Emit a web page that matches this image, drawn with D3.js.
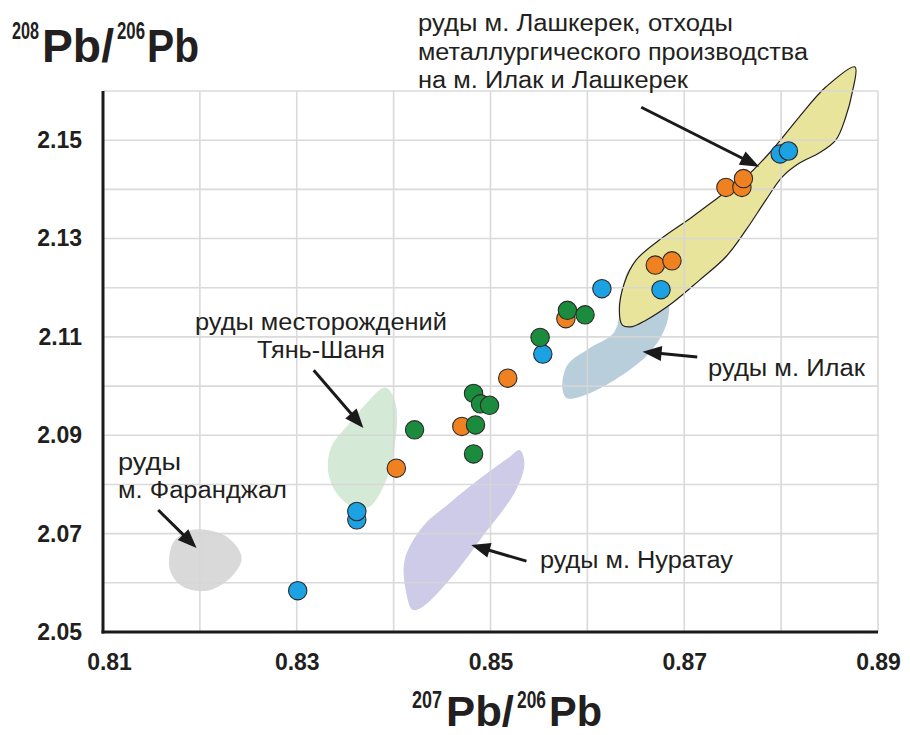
<!DOCTYPE html>
<html>
<head>
<meta charset="utf-8">
<script src="https://cdn.jsdelivr.net/npm/d3@7"></script>
<style>
  html, body { margin: 0; padding: 0; background: #fff; }
  svg { display: block; }
  text { font-family: "Liberation Sans", Arial, sans-serif; fill: #231f20; }
</style>
</head>
<body>
<svg id="chart" width="910" height="735"></svg>
<script>
// ---------- data ----------
const xTicks = [0.81, 0.83, 0.85, 0.87, 0.89];
const yTicks = [2.05, 2.07, 2.09, 2.11, 2.13, 2.15];
const xGrid = [0.82, 0.83, 0.84, 0.85, 0.86, 0.87, 0.88, 0.89];
const yGrid = [2.06, 2.07, 2.08, 2.09, 2.10, 2.11, 2.12, 2.13, 2.14, 2.15, 2.16];

// blue samples [207Pb/206Pb, 208Pb/206Pb]
const bluePts = [
  [0.8301, 2.0584], [0.8362, 2.0728], [0.8362, 2.0745], [0.8554, 2.1065],
  [0.8615, 2.1198], [0.8676, 2.1196], [0.8799, 2.1472], [0.88075, 2.1478]
];
const orangePts = [
  [0.84028, 2.0833], [0.84704, 2.0918], [0.85178, 2.1016], [0.85778, 2.1137],
  [0.86701, 2.1246], [0.86873, 2.12547], [0.8743, 2.1404], [0.87595, 2.1404],
  [0.87611, 2.1422]
];
const greenPts = [
  [0.84216, 2.0911], [0.84825, 2.0862], [0.84845, 2.0921], [0.84825, 2.0985],
  [0.84897, 2.0964], [0.8499, 2.0961], [0.85512, 2.1099], [0.85794, 2.1154],
  [0.85976, 2.1145]
];

// field outlines (data units)
const fieldTianShan = [
  [0.83941, 2.0995], [0.84028, 2.0958], [0.8401, 2.0877], [0.83925, 2.0809],
  [0.83753, 2.0755], [0.83598, 2.0752], [0.83409, 2.0783], [0.83323, 2.0829],
  [0.83358, 2.0877], [0.83546, 2.0925], [0.83753, 2.0972], [0.83887, 2.0996]
];
const fieldFaranjal = [
  [0.82, 2.0709], [0.82275, 2.0694], [0.8243, 2.0653], [0.82361, 2.062],
  [0.82103, 2.0585], [0.81825, 2.0592], [0.81691, 2.0626], [0.81722, 2.0681],
  [0.81863, 2.0704]
];
const fieldNuratau = [
  [0.8530, 2.087], [0.8535, 2.0844], [0.85265, 2.0789], [0.84918, 2.0694],
  [0.84577, 2.0606], [0.84299, 2.0551], [0.84196, 2.0545], [0.84131, 2.0579],
  [0.84113, 2.0646], [0.84299, 2.0714], [0.84577, 2.0762], [0.84918, 2.0816],
  [0.85196, 2.0856]
];
const fieldIlak = [
  [0.85742, 2.0996], [0.85794, 2.1043], [0.86021, 2.1077], [0.86278, 2.111],
  [0.8635, 2.1175], [0.86412, 2.1232], [0.86515, 2.1252], [0.86639, 2.125],
  [0.86763, 2.1215], [0.86845, 2.1165], [0.86794, 2.1114], [0.86619, 2.1063],
  [0.86278, 2.1012], [0.85918, 2.0978], [0.85784, 2.0976]
];
const fieldLashkerek = [
  [0.88763, 2.1649], [0.88732, 2.1595], [0.88667, 2.1547], [0.88564, 2.15],
  [0.88392, 2.1474], [0.88186, 2.1453], [0.8801, 2.1425], [0.87842, 2.1378],
  [0.87636, 2.1317], [0.8743, 2.1263], [0.87155, 2.1215], [0.86876, 2.1169],
  [0.86605, 2.1134], [0.86464, 2.1121], [0.86361, 2.1124], [0.8633, 2.1154],
  [0.86381, 2.1209], [0.86502, 2.1256], [0.86742, 2.1297], [0.87082, 2.1344],
  [0.87361, 2.1385], [0.87636, 2.1425], [0.87907, 2.148], [0.88186, 2.1547],
  [0.88461, 2.1608]
];

// annotation arrows: [from, to] in data units
const arrows = [
  [[0.86556, 2.1567], [0.87773, 2.1446]],
  [[0.83175, 2.1032], [0.83688, 2.0915]],
  [[0.8157, 2.0748], [0.81966, 2.0671]],
  [[0.87134, 2.1059], [0.8657, 2.107]],
  [[0.85371, 2.0644], [0.84801, 2.0677]]
];

// ---------- scales ----------
const svg = d3.select("#chart");
const x = d3.scaleLinear().domain([0.81, 0.89]).range([103, 878]);
const y = d3.scaleLinear().domain([2.05, 2.16]).range([632, 91]);

const blob = d3.line().x(d => x(d[0])).y(d => y(d[1])).curve(d3.curveCatmullRomClosed.alpha(0.5));

// ---------- fields ----------
const gFields = svg.append("g");
gFields.append("path").attr("d", blob(fieldTianShan)).attr("fill", "#d5e9d7");
gFields.append("path").attr("d", blob(fieldFaranjal)).attr("fill", "#d9d9d9");
gFields.append("path").attr("d", blob(fieldNuratau)).attr("fill", "#cecbe9");
gFields.append("path").attr("d", blob(fieldIlak)).attr("fill", "#b8cedb");
gFields.append("path").attr("d", blob(fieldLashkerek)).attr("fill", "#e8e49c")
  .attr("stroke", "#231f20").attr("stroke-width", 1.2);

// ---------- grid ----------
const gGrid = svg.append("g").attr("stroke", "#d6d6d6").attr("stroke-width", 1.6).attr("opacity", 0.9);
gGrid.selectAll("line.v").data(xGrid).join("line")
  .attr("x1", d => x(d)).attr("x2", d => x(d))
  .attr("y1", y(2.05)).attr("y2", y(2.16));
gGrid.selectAll("line.h").data(yGrid).join("line")
  .attr("x1", x(0.81)).attr("x2", x(0.89))
  .attr("y1", d => y(d)).attr("y2", d => y(d));

// ---------- axes ----------
const xAxis = d3.axisBottom(x).tickValues(xTicks).tickSize(0).tickPadding(21)
  .tickFormat(d3.format(".2f"));
const yAxis = d3.axisLeft(y).tickValues(yTicks).tickSize(0).tickPadding(21)
  .tickFormat(d3.format(".2f"));

const gx = svg.append("g").attr("transform", `translate(0,${y(2.05)})`).call(xAxis);
const gy = svg.append("g").attr("transform", `translate(${x(0.81)},0)`).call(yAxis);
[gx, gy].forEach(g => {
  g.select(".domain").remove();
  g.selectAll("text").attr("font-family", "'Liberation Sans', Arial, sans-serif")
    .attr("font-size", 23).attr("font-weight", "bold").attr("fill", "#231f20");
});
gx.selectAll("text").attr("dy", "0.75em");
gx.selectAll("text").filter(d => d === 0.81).attr("dx", 6);

svg.append("line").attr("x1", x(0.81)).attr("x2", x(0.81))
  .attr("y1", y(2.16)).attr("y2", y(2.05) + 1.5)
  .attr("stroke", "#1a1a1a").attr("stroke-width", 3);
svg.append("line").attr("x1", x(0.81) - 1.5).attr("x2", x(0.89))
  .attr("y1", y(2.05)).attr("y2", y(2.05))
  .attr("stroke", "#1a1a1a").attr("stroke-width", 3);

// ---------- arrows ----------
const gArr = svg.append("g");
arrows.forEach(a => {
  const x0 = x(a[0][0]), y0 = y(a[0][1]), x1 = x(a[1][0]), y1 = y(a[1][1]);
  const dx = x1 - x0, dy = y1 - y0, len = Math.hypot(dx, dy);
  const ux = dx / len, uy = dy / len;
  const hl = 19, hw = 7.5;
  const bx = x1 - ux * hl, by = y1 - uy * hl;
  gArr.append("line").attr("x1", x0).attr("y1", y0)
    .attr("x2", bx + ux * 3).attr("y2", by + uy * 3)
    .attr("stroke", "#1a1a1a").attr("stroke-width", 3);
  gArr.append("path")
    .attr("d", `M${x1},${y1}L${bx - uy * hw},${by + ux * hw}L${bx + uy * hw},${by - ux * hw}Z`)
    .attr("fill", "#1a1a1a");
});

// ---------- points ----------
function drawPts(data, color) {
  svg.append("g").selectAll("circle").data(data).join("circle")
    .attr("cx", d => x(d[0])).attr("cy", d => y(d[1])).attr("r", 9.2)
    .attr("fill", color).attr("stroke", "#2a2a2a").attr("stroke-width", 1.1);
}
drawPts(orangePts, "#f08120");
drawPts(bluePts, "#1ca1e2");
drawPts(greenPts, "#1b8b3d");

// ---------- labels ----------
const labels = [
  ["руды м. Лашкерек, отходы", 418, 31, 315],
  ["металлургического производства", 418, 60, 390],
  ["на м. Илак и Лашкерек", 418, 88, 270],
  ["руды месторождений", 195, 330, 252],
  ["Тянь-Шаня", 257, 358, 128],
  ["руды м. Илак", 708, 376, 157],
  ["руды", 118, 470, 63],
  ["м. Фаранджал", 118, 498, 169],
  ["руды м. Нуратау", 540, 568, 193]
];
svg.append("g").selectAll("text").data(labels).join("text")
  .attr("x", d => d[1]).attr("y", d => d[2])
  .attr("font-size", 23)
  .attr("textLength", d => d[3]).attr("lengthAdjust", "spacingAndGlyphs")
  .text(d => d[0]);

// axis titles (one text element each, pieces as tspans)
function title(pieces) {
  const t = svg.append("text").attr("font-weight", "bold").attr("fill", "#231f20");
  pieces.forEach(p => {
    t.append("tspan").attr("x", p[1]).attr("y", p[2]).attr("font-size", p[3])
      .attr("textLength", p[4]).attr("lengthAdjust", "spacingAndGlyphs")
      .text(p[0]);
  });
}
title([
  ["208", 12, 39, 24, 27],
  ["Pb/", 42, 62, 46, 72],
  ["206", 117, 39, 24, 28],
  ["Pb", 147, 62, 46, 52]
]);
title([
  ["207", 412, 708, 23, 30],
  ["Pb/", 446, 726, 43, 68],
  ["206", 517, 708, 23, 29],
  ["Pb", 549, 726, 43, 53]
]);
</script>
</body>
</html>
